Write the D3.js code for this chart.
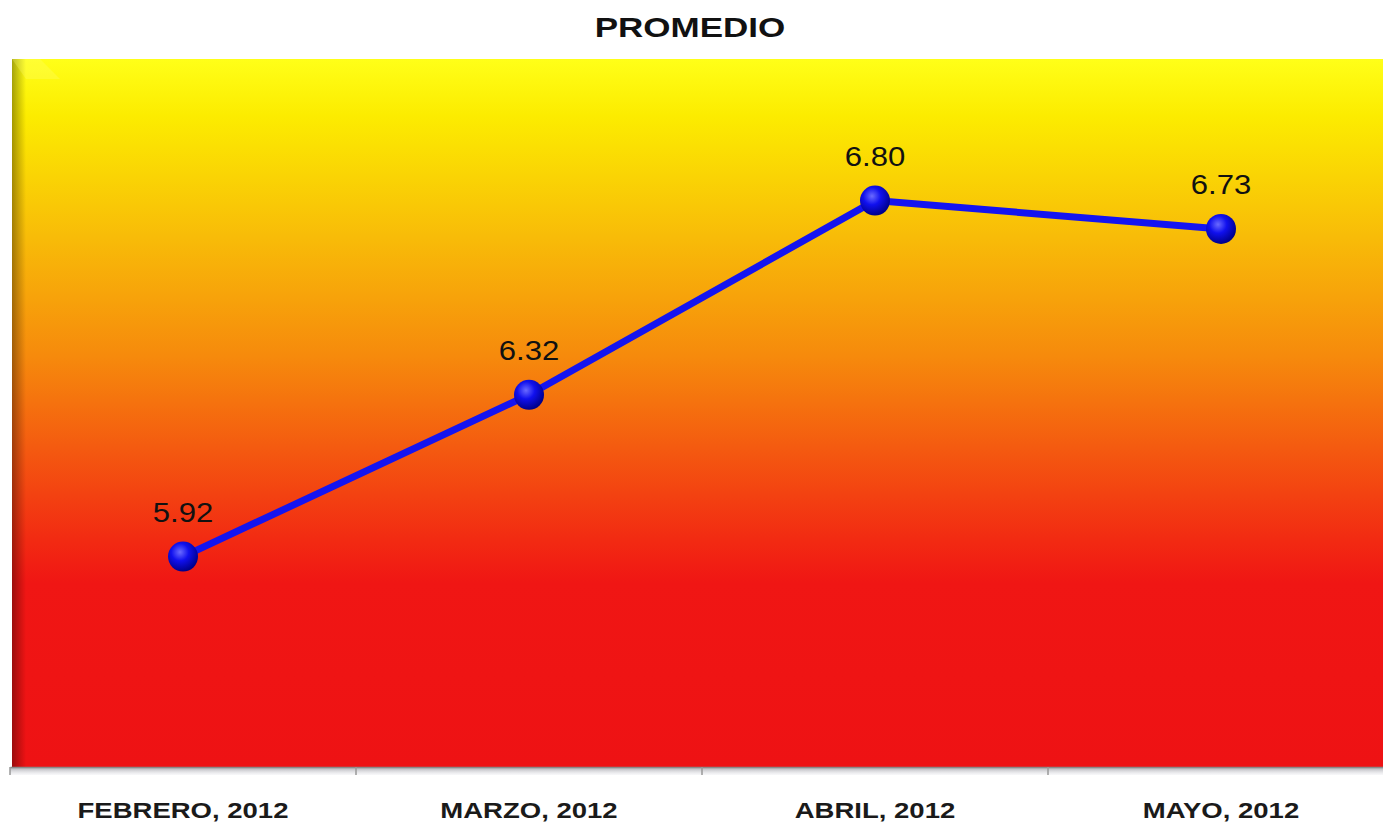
<!DOCTYPE html>
<html><head><meta charset="utf-8">
<script src="https://cdn.jsdelivr.net/npm/d3@7"></script>
<style>body{margin:0;background:#fff;}svg{display:block;}</style>
</head><body>
<script>
const title = "PROMEDIO";
const categories = ["FEBRERO, 2012", "MARZO, 2012", "ABRIL, 2012", "MAYO, 2012"];
const values = [5.92, 6.32, 6.80, 6.73];
const yDomain = [5.4, 7.15];

const W = 1383, H = 826;
const plot = {left: 10, right: 1394, top: 59, bottom: 767};
const svg = d3.select("body").append("svg").attr("width", W).attr("height", H);
const defs = svg.append("defs");

const bg = defs.append("linearGradient").attr("id","bg").attr("x1",0).attr("y1",0).attr("x2",0).attr("y2",1);
[[0,"#ffff18"],[0.08,"#fcec00"],[0.25,"#f8bc08"],[0.42,"#f68a0c"],[0.55,"#f45a10"],[0.68,"#f22a12"],[0.74,"#f01614"],[1,"#ee1214"]]
  .forEach(([o,c])=>bg.append("stop").attr("offset",o).attr("stop-color",c));

const leftShade = defs.append("linearGradient").attr("id","ls").attr("x1",0).attr("y1",0).attr("x2",1).attr("y2",0);
leftShade.append("stop").attr("offset",0).attr("stop-color","#000").attr("stop-opacity",0.35);
leftShade.append("stop").attr("offset",1).attr("stop-color","#000").attr("stop-opacity",0);

const bottomShadow = defs.append("linearGradient").attr("id","bs").attr("x1",0).attr("y1",0).attr("x2",0).attr("y2",1);
bottomShadow.append("stop").attr("offset",0).attr("stop-color","#9a9aa0").attr("stop-opacity",0.9);
bottomShadow.append("stop").attr("offset",1).attr("stop-color","#e8e8ee").attr("stop-opacity",0.3);

const ball = defs.append("radialGradient").attr("id","ball").attr("cx","40%").attr("cy","35%").attr("r","65%");
ball.append("stop").attr("offset",0).attr("stop-color","#6a6aff");
ball.append("stop").attr("offset",0.45).attr("stop-color","#1010ee");
ball.append("stop").attr("offset",1).attr("stop-color","#00008a");

const x = d3.scaleBand().domain(categories).range([plot.left, plot.right]).padding(0);
const y = d3.scaleLinear().domain(yDomain).range([plot.bottom, plot.top]);

function stretch(sel, f) {
  sel.each(function() {
    const len = this.getComputedTextLength();
    d3.select(this).attr("textLength", len * f).attr("lengthAdjust", "spacingAndGlyphs");
  });
}

// bottom shadow
svg.append("rect").attr("x", plot.left).attr("y", plot.bottom).attr("width", W - plot.left).attr("height", 8).attr("fill","url(#bs)");
// plot background
svg.append("rect").attr("x", plot.left+2).attr("y", plot.top).attr("width", W - plot.left - 2).attr("height", plot.bottom - plot.top).attr("fill","url(#bg)");
svg.append("rect").attr("x", plot.left+2).attr("y", plot.top).attr("width", 14).attr("height", plot.bottom - plot.top).attr("fill","url(#ls)");
svg.append("path").attr("d", `M${plot.left+2},${plot.top} L${plot.left+30},${plot.top} L${plot.left+50},${plot.top+20} L${plot.left+16},${plot.top+20} Z`)
  .attr("fill","#ffff80").attr("opacity",0.25);

// axis
const xAxis = d3.axisBottom(x).tickSize(0).tickFormat("");
const ax = svg.append("g").attr("transform",`translate(0,${plot.bottom})`).call(xAxis);
ax.select(".domain").attr("stroke","#8a8a8a").attr("stroke-width",1.5);
const bounds = [plot.left].concat(categories.map(c => x(c) + x.bandwidth()));
svg.append("g").selectAll("line").data(bounds).join("line")
  .attr("x1", d=>d).attr("x2", d=>d).attr("y1", plot.bottom).attr("y2", plot.bottom+8)
  .attr("stroke","#999").attr("stroke-width",1.5);

svg.append("g").selectAll("text").data(categories).join("text")
  .attr("x", d => x(d) + x.bandwidth()/2).attr("y", 818)
  .attr("text-anchor","middle").attr("font-family","Liberation Sans, Arial, sans-serif")
  .attr("font-weight","bold").attr("font-size",22).attr("fill","#1a1a1a").text(d=>d)
  .call(stretch, 1.25);

// title
svg.append("text").attr("x", 690).attr("y", 37).attr("text-anchor","middle")
  .attr("font-family","Liberation Sans, Arial, sans-serif").attr("font-weight","bold")
  .attr("font-size",28).attr("fill","#111").text(title)
  .call(stretch, 1.25);

// line
const pts = categories.map((c,i)=>({c, v: values[i]}));
const line = d3.line().x(d => x(d.c) + x.bandwidth()/2).y(d => y(d.v));
svg.append("path").datum(pts).attr("d", line).attr("fill","none").attr("stroke","#1414f0").attr("stroke-width",7).attr("stroke-linejoin","round");

svg.append("g").selectAll("circle").data(pts).join("circle")
  .attr("cx", d => x(d.c) + x.bandwidth()/2).attr("cy", d => y(d.v)).attr("r", 15)
  .attr("fill","url(#ball)");

svg.append("g").selectAll("text").data(pts).join("text")
  .attr("x", d => x(d.c) + x.bandwidth()/2).attr("y", d => y(d.v) - 35)
  .attr("text-anchor","middle").attr("font-family","Liberation Sans, Arial, sans-serif")
  .attr("font-size",27).attr("fill","#111").text(d => d.v.toFixed(2))
  .call(stretch, 1.15);
</script>
</body></html>
